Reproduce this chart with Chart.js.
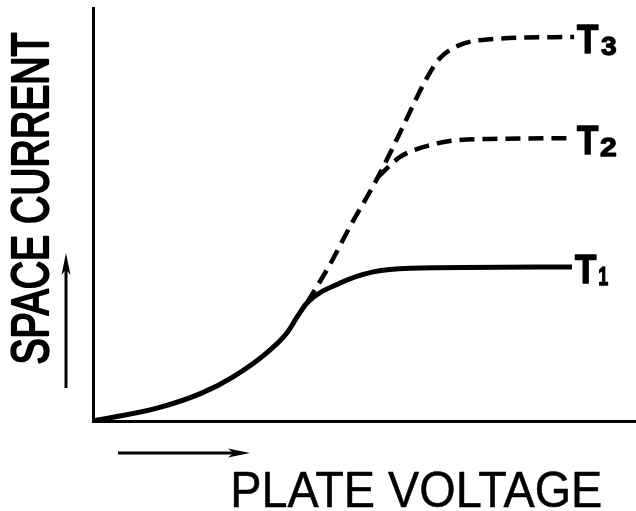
<!DOCTYPE html>
<html>
<head>
<meta charset="utf-8">
<script src="https://cdn.jsdelivr.net/npm/chart.js@4.4.0/dist/chart.umd.min.js"></script>
<style>
html, body { margin: 0; padding: 0; background: #fff; }
#wrap { width: 636px; height: 511px; }
</style>
</head>
<body>
<div id="wrap"><canvas id="chart" width="636" height="511"></canvas></div>
<script>
// curve T1 (solid), arbitrary units 0..100
var plateV1  = [0, 11.8, 20.1, 25.8, 32.0, 35.7, 37.6, 39.4, 45.5, 51.6, 58.4, 88.2];
var current1 = [0, 3.1, 6.8, 10.7, 16.5, 21.3, 25.2, 28.6, 33.4, 36.1, 37.0, 37.3];
// curve T2 (dashed, branches off the T3 line)
var plateV2  = [52.5, 56.5, 62.1, 67.0, 73.1, 88.6];
var current2 = [59.1, 63.9, 66.8, 68.0, 68.3, 68.5];
// curve T3 (dashed, leaves T1 at the knee)
var plateV3  = [39.4, 43.6, 47.3, 52.5, 56.5, 61.5, 64.0, 67.5, 72.6, 88.6];
var current3 = [28.6, 37.8, 47.0, 59.1, 69.7, 83.1, 88.0, 91.0, 92.4, 93.0];

var curveNames = ['1', '2', '3'];
var xTitle = 'PLATE VOLTAGE';
var yTitle = 'SPACE CURRENT';

function pts(xs, ys) {
  return xs.map(function(x, i) { return { x: x, y: ys[i] }; });
}

// squeeze a string into a box (w along the text, h = cap height)
function fitText(ctx, str, font, x, y, w, h, rotated, weight) {
  ctx.save();
  ctx.font = font;
  var m = ctx.measureText(str);
  var tw = m.actualBoundingBoxLeft + m.actualBoundingBoxRight;
  var th = m.actualBoundingBoxAscent + m.actualBoundingBoxDescent;
  ctx.translate(x, y);
  if (rotated) ctx.rotate(-Math.PI / 2);
  ctx.scale(w / tw, h / th);
  ctx.textAlign = 'left';
  ctx.textBaseline = 'alphabetic';
  ctx.fillStyle = '#000';
  ctx.fillText(str, m.actualBoundingBoxLeft, m.actualBoundingBoxAscent);
  if (weight) {
    ctx.strokeStyle = '#000';
    ctx.lineWidth = weight;
    ctx.lineJoin = 'round';
    ctx.strokeText(str, m.actualBoundingBoxLeft, m.actualBoundingBoxAscent);
  }
  ctx.restore();
}

function arrow(ctx, x1, y1, x2, y2) {
  var a = Math.atan2(y2 - y1, x2 - x1);
  var len = 22, half = 4.5;
  ctx.save();
  ctx.strokeStyle = '#000';
  ctx.fillStyle = '#000';
  ctx.lineWidth = 3;
  ctx.beginPath();
  ctx.moveTo(x1, y1);
  ctx.lineTo(x2 - Math.cos(a) * len * 0.6, y2 - Math.sin(a) * len * 0.6);
  ctx.stroke();
  ctx.translate(x2, y2);
  ctx.rotate(a);
  ctx.beginPath();
  ctx.moveTo(0, 0);
  ctx.lineTo(-len, -half);
  ctx.lineTo(-len * 0.75, 0);
  ctx.lineTo(-len, half);
  ctx.closePath();
  ctx.fill();
  ctx.restore();
}

var decor = {
  id: 'decor',
  afterDraw: function(chart) {
    var ctx = chart.ctx;
    var xs = chart.scales.x, ys = chart.scales.y;

    fitText(ctx, yTitle, '50px "Liberation Sans"', 11, 363, 330, 37, true, 2.2);
    fitText(ctx, xTitle, '50px "Liberation Sans"', 234, 471, 367, 36, false, 0.5);

    arrow(ctx, 66, 388, 66, 253);
    arrow(ctx, 118, 453, 250, 453);

    // curve labels T1..T3 at the end of each line
    var ends = [
      [plateV1[plateV1.length - 1], current1[current1.length - 1]],
      [plateV2[plateV2.length - 1], current2[current2.length - 1]],
      [plateV3[plateV3.length - 1], current3[current3.length - 1]]
    ];
    ends.forEach(function(e, i) {
      var px = xs.getPixelForValue(e[0]);
      var py = ys.getPixelForValue(e[1]);
      fitText(ctx, 'T', 'bold 40px "Liberation Sans"', px + 3, py - 13, 21, 29, false, 1.5);
      var dw = curveNames[i] === '1' ? 9 : 15;
      fitText(ctx, curveNames[i], 'bold 30px "Liberation Sans"', px + 27, py + 1, dw, 17, false, 1.5);
    });
  }
};

var hidden = {
  type: 'linear', min: 0, max: 100,
  grid: { display: false, drawTicks: false },
  ticks: { display: false },
  border: { display: true, color: '#000', width: 3 }
};

new Chart(document.getElementById('chart').getContext('2d'), {
  type: 'scatter',
  data: {
    datasets: [
      {
        label: 'T3',
        data: pts(plateV3, current3),
        showLine: true,
        borderColor: '#000',
        borderWidth: 4.5,
        borderDash: [15, 8],
        cubicInterpolationMode: 'monotone',
        pointRadius: 0
      },
      {
        label: 'T2',
        data: pts(plateV2, current2),
        showLine: true,
        borderColor: '#000',
        borderWidth: 4.5,
        borderDash: [15, 8],
        cubicInterpolationMode: 'monotone',
        pointRadius: 0
      },
      {
        label: 'T1',
        data: pts(plateV1, current1),
        showLine: true,
        borderColor: '#000',
        borderWidth: 5,
        cubicInterpolationMode: 'monotone',
        pointRadius: 0
      }
    ]
  },
  options: {
    responsive: false,
    animation: false,
    devicePixelRatio: 1,
    layout: { autoPadding: false, padding: { left: 93, top: 8, right: 0, bottom: 90 } },
    plugins: { legend: { display: false }, tooltip: { enabled: false } },
    scales: {
      x: Object.assign({ position: 'bottom' }, hidden),
      y: Object.assign({ position: 'left' }, hidden)
    }
  },
  plugins: [decor]
});
</script>
</body>
</html>
